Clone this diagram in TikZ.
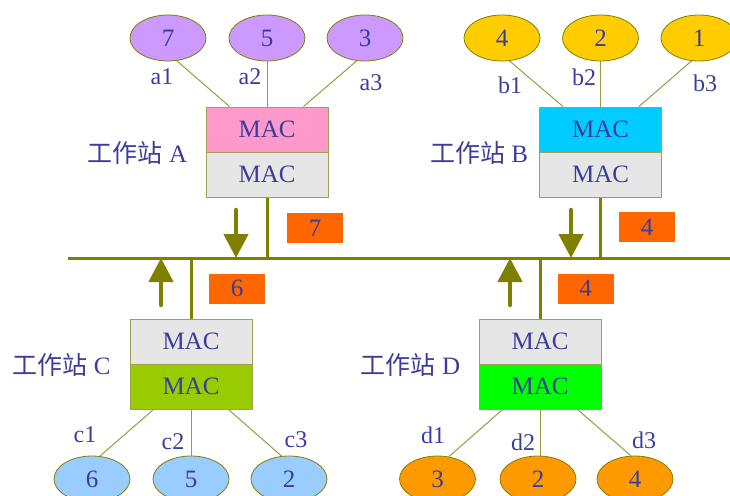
\documentclass[tikz,border=0pt]{standalone}
\usepackage{fontspec}
\setmainfont{Liberation Serif}
\newfontfamily\cjk{Noto Sans CJK TC}
\usetikzlibrary{shapes.geometric,arrows.meta}
\definecolor{txt}{HTML}{3C3C9C}
\definecolor{busc}{HTML}{808000}
\definecolor{wirec}{HTML}{9A9A40}
\definecolor{boxline}{HTML}{A0A050}
\definecolor{macgrey}{HTML}{E6E6E6}
\definecolor{tagor}{HTML}{FF6600}
\definecolor{ovA}{HTML}{CC99FF}
\definecolor{ovB}{HTML}{FFCC00}
\definecolor{ovC}{HTML}{99CCFF}
\definecolor{ovD}{HTML}{FF9900}
\definecolor{macA}{HTML}{FF99CC}
\definecolor{macB}{HTML}{00CCFF}
\definecolor{macC}{HTML}{99CC00}
\definecolor{macD}{HTML}{00FF00}
\begin{document}
\begin{tikzpicture}[x=1pt,y=-1pt,
  oval/.style={ellipse, draw=busc, line width=0.8pt, minimum width=76pt, minimum height=46pt, inner sep=0pt, text=txt, font=\fontsize{25}{30}\selectfont},
  mac/.style={rectangle, draw=boxline, line width=1pt, minimum width=122pt, minimum height=45pt, inner sep=0pt, text=txt, font=\fontsize{25}{30}\selectfont},
  lbl/.style={text=txt, font=\fontsize{24}{28}\selectfont, inner sep=0pt},
  stn/.style={text=txt, font=\fontsize{25}{30}\selectfont, inner sep=0pt},
  tag/.style={rectangle, fill=tagor, minimum width=56pt, minimum height=30pt, inner sep=0pt, text=txt, font=\fontsize{25}{30}\selectfont},
  wire/.style={draw=wirec, line width=1pt},
  stem/.style={draw=busc, line width=3pt},
  flow/.style={draw=busc, line width=4.5pt, line cap=round, -{Triangle[width=24pt,length=24pt]}}
]
\useasboundingbox (0,0) rectangle (730,495);

% bus
\coordinate (busL) at (68,258);
\coordinate (busR) at (730,258);
\draw[stem] (busL) -- (busR);

% ---------- Station A ----------
\node[mac, fill=macA] (bA1) at (267,129.5) {MAC};
\node[mac, fill=macgrey] (bA2) at (267,174.5) {MAC};
\node[oval, fill=ovA] (ea1) at (168,38) {7};
\node[oval, fill=ovA] (ea2) at (267,38) {5};
\node[oval, fill=ovA] (ea3) at (365,38) {3};
\draw[wire] (ea1.-69) -- ([xshift=24pt]bA1.north west);
\draw[wire] (ea2.south) -- (bA1.north);
\draw[wire] (ea3.-110) -- ([xshift=-25pt]bA1.north east);
\node[lbl] (la1) at (162,77) {a1};
\node[lbl] (la2) at (250,77) {a2};
\node[lbl] (la3) at (371,83) {a3};
\node[stn] (sA) at (137.5,153) {{\cjk 工作站} A};
\coordinate (busA) at (267,258);
\draw[stem] (bA2.south) -- (busA);
\coordinate (arA0) at (236,210);
\coordinate (arA1) at (236,258);
\draw[flow] (arA0) -- (arA1);
\node[tag] (tA) at (315,228) {7};

% ---------- Station B ----------
\node[mac, fill=macB] (bB1) at (600.5,129.5) {MAC};
\node[mac, fill=macgrey] (bB2) at (600.5,174.5) {MAC};
\node[oval, fill=ovB] (eb1) at (502,38) {4};
\node[oval, fill=ovB] (eb2) at (600.5,38) {2};
\node[oval, fill=ovB] (eb3) at (699,38) {1};
\draw[wire] (eb1.-72) -- ([xshift=24pt]bB1.north west);
\draw[wire] (eb2.south) -- (bB1.north);
\draw[wire] (eb3.-108) -- ([xshift=-23pt]bB1.north east);
\node[lbl] (lb1) at (510,85) {b1};
\node[lbl] (lb2) at (584,77) {b2};
\node[lbl] (lb3) at (705,83) {b3};
\node[stn] (sB) at (479,153) {{\cjk 工作站} B};
\coordinate (busB) at (600.5,258);
\draw[stem] (bB2.south) -- (busB);
\coordinate (arB0) at (571,210);
\coordinate (arB1) at (571,258);
\draw[flow] (arB0) -- (arB1);
\node[tag] (tB) at (647,227) {4};

% ---------- Station C ----------
\node[mac, fill=macgrey] (bC1) at (191,341.5) {MAC};
\node[mac, fill=macC] (bC2) at (191,386.5) {MAC};
\node[oval, fill=ovC] (ec1) at (92,479) {6};
\node[oval, fill=ovC] (ec2) at (191,479) {5};
\node[oval, fill=ovC] (ec3) at (289,479) {2};
\draw[wire] ([xshift=24pt]bC2.south west) -- (ec1.71);
\draw[wire] (bC2.south) -- (ec2.north);
\draw[wire] ([xshift=-24pt]bC2.south east) -- (ec3.108);
\node[lbl] (lc1) at (85,435) {c1};
\node[lbl] (lc2) at (173,442) {c2};
\node[lbl] (lc3) at (296,440) {c3};
\node[stn] (sC) at (61.5,365) {{\cjk 工作站} C};
\coordinate (busC) at (191,258);
\draw[stem] (bC1.north) -- (busC);
\coordinate (arC0) at (161,305);
\coordinate (arC1) at (161,258);
\draw[flow] (arC0) -- (arC1);
\node[tag] (tC) at (237,288.5) {6};

% ---------- Station D ----------
\node[mac, fill=macgrey] (bD1) at (540,341.5) {MAC};
\node[mac, fill=macD] (bD2) at (540,386.5) {MAC};
\node[oval, fill=ovD] (ed1) at (437.5,479) {3};
\node[oval, fill=ovD] (ed2) at (538,479) {2};
\node[oval, fill=ovD] (ed3) at (635,479) {4};
\draw[wire] ([xshift=24pt]bD2.south west) -- (ed1.63);
\draw[wire] (bD2.south) -- (ed2.north -| bD2.south);
\draw[wire] ([xshift=-24pt]bD2.south east) -- (ed3.100);
\node[lbl] (ld1) at (433,435) {d1};
\node[lbl] (ld2) at (523,442) {d2};
\node[lbl] (ld3) at (644,440) {d3};
\node[stn] (sD) at (410.5,365) {{\cjk 工作站} D};
\coordinate (busD) at (540,258);
\draw[stem] (bD1.north) -- (busD);
\coordinate (arD0) at (510,305);
\coordinate (arD1) at (510,258);
\draw[flow] (arD0) -- (arD1);
\node[tag] (tD) at (585.5,288.5) {4};
\end{tikzpicture}
\end{document}
